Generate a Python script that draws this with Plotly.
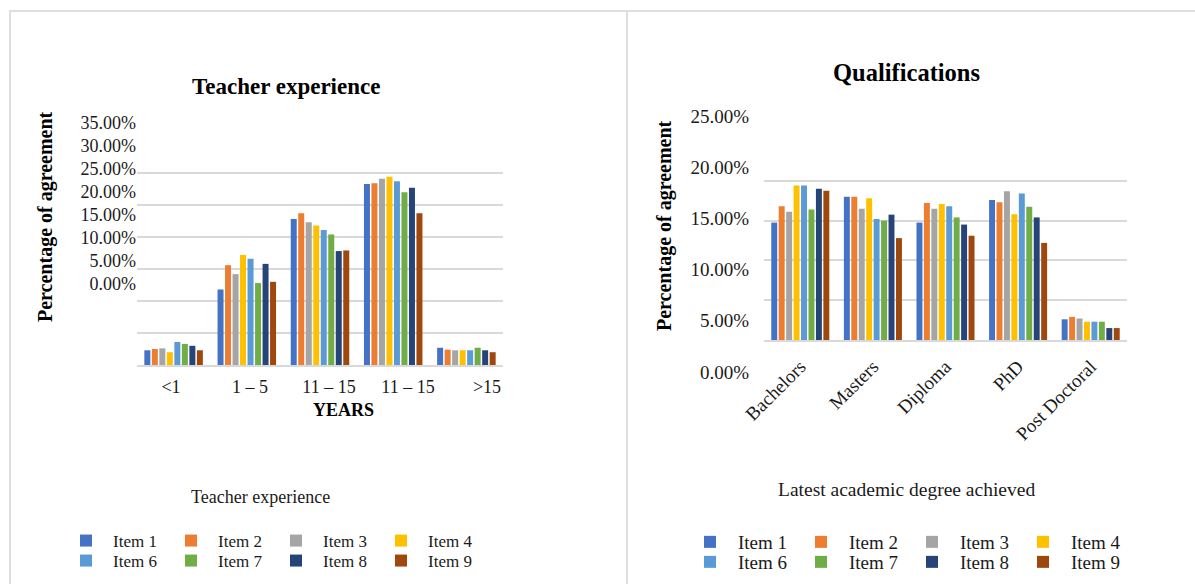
import plotly.graph_objects as go

W, H = 1195, 584

# ---------------- data ----------------
items = ["Item 1", "Item 2", "Item 3", "Item 4", "Item 6", "Item 7", "Item 8", "Item 9"]
colors = ["#4472C4", "#ED7D31", "#A5A5A5", "#FFC000", "#5B9BD5", "#70AD47", "#264478", "#9E480E"]

exp_labels = ["<1", "1 – 5", "11 – 15", "11 – 15", ">15"]
exp_values = {
    "Item 1": [2.3, 11.8, 22.8, 28.3, 2.7],
    "Item 2": [2.5, 15.6, 23.7, 28.4, 2.4],
    "Item 3": [2.6, 14.2, 22.3, 29.1, 2.3],
    "Item 4": [2.0, 17.2, 21.8, 29.4, 2.3],
    "Item 6": [3.6, 16.6, 21.1, 28.7, 2.3],
    "Item 7": [3.3, 12.8, 20.4, 27.0, 2.7],
    "Item 8": [3.0, 15.8, 17.8, 27.7, 2.3],
    "Item 9": [2.3, 13.0, 17.9, 23.7, 2.0],
}

qual_labels = ["Bachelors", "Masters", "Diploma", "PhD", "Post Doctoral"]
qual_values = {
    "Item 1": [14.75, 18.0, 14.75, 17.6, 2.6],
    "Item 2": [16.8, 18.0, 17.2, 17.3, 2.9],
    "Item 3": [16.1, 16.5, 16.5, 18.7, 2.7],
    "Item 4": [19.4, 17.8, 17.1, 15.8, 2.3],
    "Item 6": [19.4, 15.2, 16.8, 18.4, 2.3],
    "Item 7": [16.4, 15.0, 15.4, 16.75, 2.3],
    "Item 8": [19.0, 15.75, 14.5, 15.4, 1.5],
    "Item 9": [18.75, 12.8, 13.1, 12.2, 1.5],
}

exp_ticks = [0, 5, 10, 15, 20, 25, 30, 35]
qual_ticks = [0, 5, 10, 15, 20, 25]
exp_ticktext = [f"{v:.2f}%" for v in exp_ticks]
qual_ticktext = [f"{v:.2f}%" for v in qual_ticks]

# ---------------- helpers ----------------
def px_x(p):
    return p / W

def px_y(p):
    return 1 - p / H

FONT = "Liberation Serif"
GRID = "#d9d9d9"
TXT = "#1a1a1a"

fig = go.Figure()

for i, name in enumerate(items):
    leg_left = "legend" if i < 4 else "legend2"
    leg_right = "legend3" if i < 4 else "legend4"
    fig.add_trace(go.Bar(
        x=list(range(len(exp_labels))), y=exp_values[name], name=name,
        marker=dict(color=colors[i], line=dict(width=0)),
        xaxis="x", yaxis="y", legend=leg_left,
    ))
    fig.add_trace(go.Bar(
        x=qual_labels, y=qual_values[name], name=name,
        marker=dict(color=colors[i], line=dict(width=0)),
        xaxis="x2", yaxis="y2", legend=leg_right,
    ))

# empty helper traces so that the label-only axes get drawn
for xa, ya in [("x3", "y3"), ("x4", "y4"), ("x5", "y5")]:
    fig.add_trace(go.Scatter(x=[], y=[], xaxis=xa, yaxis=ya, showlegend=False,
                             hoverinfo="skip", mode="markers"))

axis_common = dict(zeroline=False, fixedrange=True)

fig.update_layout(
    width=W, height=H,
    margin=dict(l=0, r=0, t=0, b=0, autoexpand=False),
    paper_bgcolor="white", plot_bgcolor="rgba(0,0,0,0)",
    barmode="group", bargap=0.18, bargroupgap=0.2,
    font=dict(family=FONT, color=TXT, size=17),
    # ---- left chart ----
    xaxis=dict(domain=[px_x(137), px_x(503)], anchor="y", range=[-0.5, 4.5],
               showticklabels=False, showgrid=False, ticks="",
               showline=True, linecolor=GRID, linewidth=2, **axis_common),
    yaxis=dict(domain=[px_y(365), px_y(141)], anchor="x", range=[0, 35],
               tickvals=exp_ticks, showticklabels=False, showgrid=True,
               gridcolor=GRID, gridwidth=2, showline=False, **axis_common),
    # ---- right chart ----
    xaxis2=dict(domain=[px_x(764), px_x(1127)], anchor="y2", type="category",
                tickangle=-45, tickfont=dict(size=19, color=TXT), showgrid=False, ticks="",
                ticklabelstandoff=6,
                showline=True, linecolor=GRID, linewidth=2, **axis_common),
    yaxis2=dict(domain=[px_y(340), px_y(141)], anchor="x2", range=[0, 25],
                tickvals=qual_ticks, showticklabels=False, showgrid=True,
                gridcolor=GRID, gridwidth=2, showline=False, **axis_common),
    # ---- left y tick labels (offset scale as in the source image) ----
    xaxis3=dict(domain=[px_x(137), px_x(140)], anchor="y3", visible=False, fixedrange=True),
    yaxis3=dict(domain=[px_y(284), px_y(123)], anchor="x3", range=[0, 35],
                tickmode="array", tickvals=exp_ticks, ticktext=exp_ticktext,
                tickfont=dict(size=18, color=TXT), showgrid=False, ticks="",
                showline=False, **axis_common),
    # ---- left x tick labels ----
    xaxis4=dict(domain=[px_x(131.5), px_x(526.5)], anchor="y4", range=[-0.5, 4.5],
                tickmode="array", tickvals=list(range(len(exp_labels))), ticktext=exp_labels,
                tickfont=dict(size=18, color=TXT), showgrid=False, ticks="",
                showline=False, **axis_common),
    yaxis4=dict(domain=[px_y(374), px_y(368)], anchor="x4", visible=False, fixedrange=True),
    # ---- right y tick labels ----
    xaxis5=dict(domain=[px_x(750), px_x(753)], anchor="y5", visible=False, fixedrange=True),
    yaxis5=dict(domain=[px_y(372), px_y(116)], anchor="x5", range=[0, 25],
                tickmode="array", tickvals=qual_ticks, ticktext=qual_ticktext,
                tickfont=dict(size=19, color=TXT), showgrid=False, ticks="",
                showline=False, **axis_common),
    showlegend=True,
)

leg_common = dict(orientation="h", xanchor="left", yanchor="middle",
                  bgcolor="rgba(0,0,0,0)", entrywidthmode="pixels", traceorder="normal")
fig.update_layout(
    legend=dict(x=px_x(59), y=px_y(541), itemwidth=44, entrywidth=46,
                font=dict(size=17, color=TXT), **leg_common),
    legend2=dict(x=px_x(59), y=px_y(561), itemwidth=44, entrywidth=46,
                 font=dict(size=17, color=TXT), **leg_common),
    legend3=dict(x=px_x(682), y=px_y(542), itemwidth=46, entrywidth=50,
                 font=dict(size=19, color=TXT), **leg_common),
    legend4=dict(x=px_x(682), y=px_y(562), itemwidth=46, entrywidth=50,
                 font=dict(size=19, color=TXT), **leg_common),
)

ann = [
    dict(text="<b>Teacher experience</b>", x=px_x(286), y=px_y(87), font=dict(size=23, color="#000")),
    dict(text="<b>Qualifications</b>", x=px_x(907), y=px_y(72), font=dict(size=24.5, color="#000")),
    dict(text="<b>Percentage of agreement</b>", x=px_x(45), y=px_y(217), textangle=-90,
         font=dict(size=20, color="#000")),
    dict(text="<b>Percentage of agreement</b>", x=px_x(664), y=px_y(226), textangle=-90,
         font=dict(size=20, color="#000")),
    dict(text="<b>YEARS</b>", x=px_x(343), y=px_y(410), font=dict(size=18, color="#000")),
    dict(text="Teacher experience", x=px_x(260), y=px_y(497), font=dict(size=18, color=TXT)),
    dict(text="Latest academic degree achieved", x=px_x(907), y=px_y(489), font=dict(size=19.5, color=TXT)),
]
for a in ann:
    a.update(xref="paper", yref="paper", showarrow=False, xanchor="center", yanchor="middle")
fig.update_layout(annotations=ann)

border = dict(color="#dedede", width=2)
fig.update_layout(shapes=[
    dict(type="line", xref="paper", yref="paper", x0=px_x(9), x1=1, y0=px_y(11), y1=px_y(11), line=border),
    dict(type="line", xref="paper", yref="paper", x0=px_x(10), x1=px_x(10), y0=px_y(11), y1=0, line=border),
    dict(type="line", xref="paper", yref="paper", x0=px_x(627), x1=px_x(627), y0=px_y(11), y1=0, line=border),
])

fig.write_html("out.html")
